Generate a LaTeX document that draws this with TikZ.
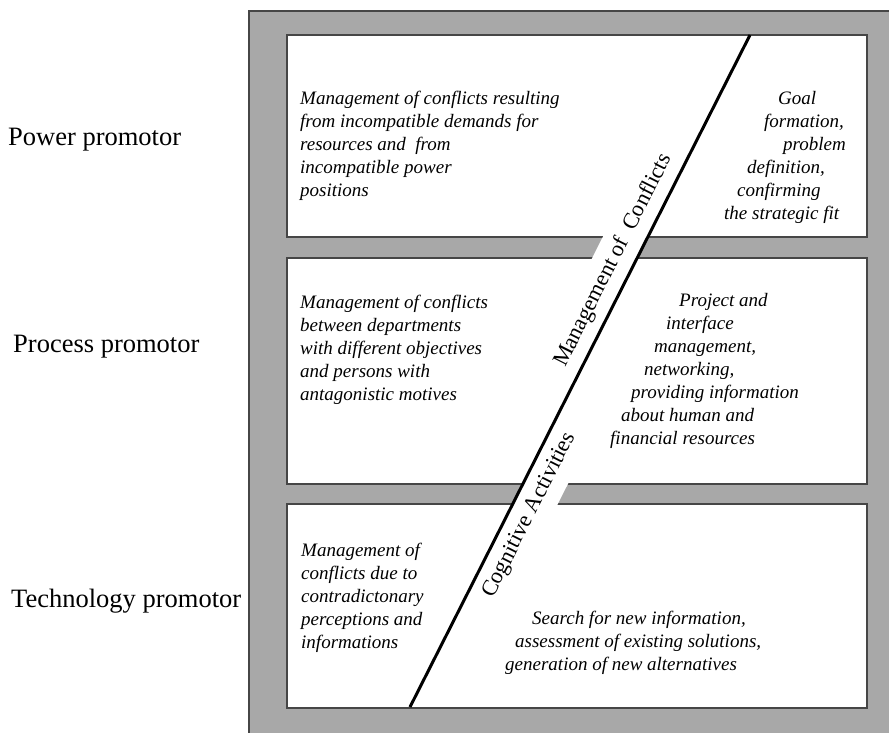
\documentclass[tikz,border=0pt]{standalone}
\usepackage{fontspec}
\setmainfont{Liberation Serif}
\usetikzlibrary{calc}
\definecolor{framegray}{RGB}{168,168,168}
\definecolor{edgegray}{RGB}{70,70,70}

\begin{document}
\begin{tikzpicture}
[x=1pt,y=-1pt,
 box/.style={draw=edgegray,line width=1.8pt,fill=white,rectangle,inner sep=0pt,minimum width=580pt},
 txt/.style={anchor=north west,align=left,inner sep=0pt,font=\fontsize{19}{23}\selectfont\itshape},
 role/.style={anchor=base west,inner sep=0pt,font=\fontsize{26.5}{30}\selectfont},
 band/.style={fill=white,rotate=63.16,inner xsep=4pt,inner ysep=0pt,minimum height=40pt,font=\fontsize{22.5}{26}\selectfont}]
\useasboundingbox (0,0) rectangle (889,732);

% Frame and the three levels
\node(F)[draw=edgegray,line width=2pt,fill=framegray,rectangle,minimum width=650pt,minimum height=740pt] at (574,381) {};
\node(B1)[box,minimum height=202pt] at (577,136) {};
\node(B2)[box,minimum height=226pt] at (577,371) {};
\node(B3)[box,minimum height=204pt] at (577,606) {};

% Nodes of the diagram
\node(Pw)[role] at (8,145)  {Power promotor};
\node(Pr)[role] at (13,352) {Process promotor};
\node(Te)[role] at (11,607) {Technology promotor};

\node(C1)[txt] at (300,91) {Management of conflicts resulting\\from incompatible demands for\\resources and \ from\\incompatible power\\positions};
\node(G1)[txt] at (724,91) {\hspace*{54pt}Goal\\\hspace*{40pt}formation,\\\hspace*{59pt}problem\\\hspace*{23pt}definition,\\\hspace*{13pt}confirming\\the strategic fit};

\node(C2)[txt] at (300,295) {Management of conflicts\\between departments\\with different objectives\\and persons with\\antagonistic motives};
\node(G2)[txt] at (610,293) {\hspace*{69pt}Project and\\\hspace*{56pt}interface\\\hspace*{44pt}management,\\\hspace*{34pt}networking,\\\hspace*{21pt}providing information\\\hspace*{11pt}about human and\\financial resources};

\node(C3)[txt] at (301,543) {Management of\\conflicts due to\\contradictonary\\perceptions and\\informations};
\node(G3)[txt] at (505,611) {\hspace*{27pt}Search for new information,\\\hspace*{10pt}assessment of existing solutions,\\generation of new alternatives};

% Diagonal with its two labels
\coordinate (T) at (750,35);
\coordinate (S) at (410,707);
\node(MC)[band,anchor=south] at ($(S)!0.651!(T)$) {Management of \ Conflicts};
\node(CA)[band,anchor=north] at ($(S)!0.299!(T)$) {Cognitive Activities};
\draw[line width=3pt] (S) -- (T);
\end{tikzpicture}
\end{document}
